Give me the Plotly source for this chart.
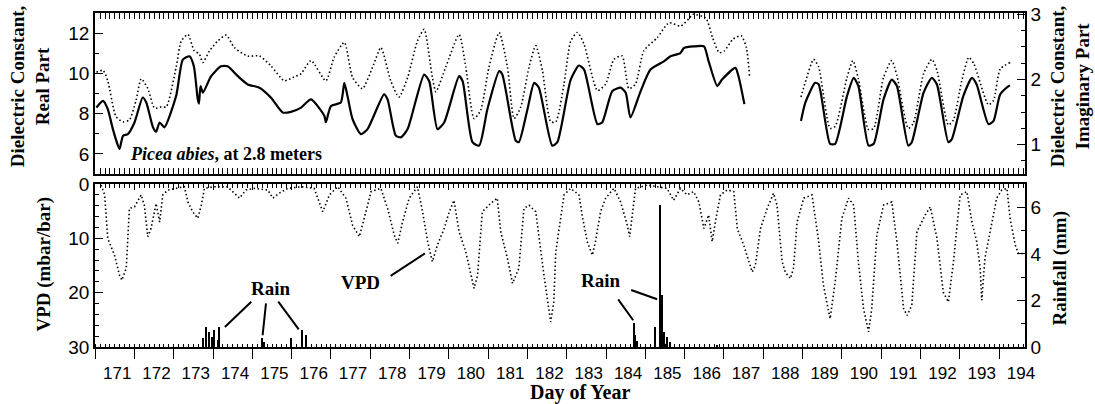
import plotly.graph_objects as go

# ---------------- data ----------------
# Top panel: dielectric constant, real part (solid, left axis)
re_day = [171.03, 171.20, 171.32, 171.45, 171.58, 171.62, 171.71, 171.83, 172.00, 172.21, 172.30, 172.47,
          172.55, 172.64, 172.76, 173.06, 173.23, 173.40, 173.51, 173.61, 173.64, 173.68, 173.74, 173.95,
          174.20, 174.37, 174.63, 174.88, 175.18, 175.47, 175.77, 175.98, 176.24, 176.49, 176.83, 176.87,
          177.00, 177.25, 177.34, 177.42, 177.55, 177.76, 177.93, 178.35, 178.44, 178.65, 178.78, 178.95,
          179.37, 179.50, 179.71, 179.88, 180.26, 180.35, 180.60, 180.77, 180.98, 181.28, 181.36, 181.70,
          181.78, 182.00, 182.17, 182.29, 182.63, 182.76, 183.10, 183.31, 183.44, 183.78, 183.90, 184.16,
          184.37, 184.50, 184.62, 184.88, 185.13, 185.47, 185.64, 185.89, 185.98, 186.23, 186.49, 186.61,
          186.83, 186.95, 187.29, 187.37, 187.52,
          None,
          188.96, 189.07, 189.32, 189.41, 189.70, 189.83, 190.13, 190.30, 190.42, 190.68, 190.81, 191.06,
          191.27, 191.40, 191.69, 191.78, 192.08, 192.29, 192.42, 192.71, 192.80, 193.09, 193.31, 193.43,
          193.73, 193.86, 194.03, 194.24, 194.28]
re_val = [8.30, 8.63, 8.22, 7.23, 6.41, 6.25, 6.90, 6.98, 7.56, 8.80, 8.55, 7.32,
          7.10, 7.56, 7.32, 8.88, 10.68, 10.85, 10.35, 8.71, 8.50, 9.37, 9.04, 9.86,
          10.35, 10.35, 9.86, 9.45, 9.29, 8.80, 8.06, 8.09, 8.30, 8.71, 7.89, 7.57,
          8.38, 8.55, 9.53, 8.87, 7.72, 6.98, 7.23, 8.96, 8.71, 6.90, 6.82, 7.23,
          9.94, 9.61, 7.23, 7.56, 9.86, 9.61, 6.58, 6.41, 8.22, 10.11, 9.94, 6.66,
          6.58, 8.22, 9.53, 9.29, 6.41, 6.58, 9.69, 10.39, 10.19, 7.48, 7.56, 9.12,
          9.29, 9.04, 7.81, 9.12, 10.19, 10.60, 10.85, 11.01, 11.26, 11.34, 11.34, 10.60,
          9.37, 9.69, 10.27, 9.86, 8.47,
          None,
          7.64, 8.55, 9.53, 9.45, 6.50, 6.50, 8.87, 9.78, 9.37, 6.41, 6.50, 8.71,
          9.69, 9.37, 6.41, 6.58, 9.04, 9.78, 9.45, 6.58, 6.74, 8.87, 9.78, 9.45,
          7.48, 7.64, 8.96, 9.37, 9.40]

# Top panel: dielectric constant, imaginary part (dotted, right axis)
im_day = [171.03, 171.20, 171.32, 171.53, 171.71, 171.87, 172.04, 172.17, 172.34, 172.51, 172.68, 172.81,
          173.06, 173.19, 173.36, 173.52, 173.65, 173.74, 173.91, 174.12, 174.33, 174.54, 174.88, 175.18,
          175.47, 175.81, 176.03, 176.24, 176.49, 176.87, 177.08, 177.34, 177.55, 177.80, 178.06, 178.27,
          178.52, 178.73, 178.95, 179.20, 179.37, 179.58, 179.67, 179.92, 180.26, 180.43, 180.64, 180.81,
          181.02, 181.28, 181.49, 181.66, 181.83, 182.04, 182.21, 182.38, 182.59, 182.72, 182.93, 183.10,
          183.27, 183.44, 183.78, 183.99, 184.20, 184.41, 184.58, 184.75, 184.96, 185.30, 185.60, 185.90,
          186.12, 186.20, 186.54, 186.71, 186.88, 187.01, 187.23, 187.44, 187.57, 187.65,
          None,
          188.96, 189.07, 189.28, 189.41, 189.70, 189.83, 190.13, 190.28, 190.42, 190.68, 190.81, 191.06,
          191.27, 191.40, 191.69, 191.82, 192.08, 192.29, 192.42, 192.71, 192.84, 193.05, 193.23, 193.36,
          193.73, 193.86, 194.03, 194.28]
im_val = [2.11, 2.14, 1.98, 1.43, 1.35, 1.38, 1.68, 2.01, 1.86, 1.56, 1.58, 1.58,
          2.19, 2.59, 2.69, 2.44, 2.39, 2.26, 2.44, 2.59, 2.68, 2.49, 2.36, 2.36,
          2.21, 1.98, 2.03, 2.09, 2.29, 1.98, 2.34, 2.57, 2.03, 1.86, 2.19, 2.49,
          1.98, 1.73, 2.03, 2.59, 2.77, 2.03, 1.81, 2.19, 2.69, 2.19, 1.40, 1.53,
          2.19, 2.72, 2.19, 1.40, 1.58, 2.19, 2.52, 2.14, 1.35, 1.35, 1.93, 2.59,
          2.72, 2.54, 1.83, 1.93, 2.31, 2.36, 1.86, 1.93, 2.44, 2.64, 2.87, 2.82,
          2.94, 3.00, 2.94, 2.64, 2.41, 2.44, 2.62, 2.67, 2.49, 2.06,
          None,
          1.73, 1.96, 2.31, 2.19, 1.25, 1.28, 2.03, 2.29, 2.01, 1.23, 1.25, 2.03,
          2.29, 2.06, 1.25, 1.33, 2.09, 2.31, 2.14, 1.30, 1.38, 1.98, 2.34, 2.24,
          1.61, 1.68, 2.16, 2.26]

# Bottom panel: vapour pressure deficit (dotted, left reversed axis)
vpd_day = [171.15, 171.24, 171.32, 171.49, 171.62, 171.68, 171.79, 171.87, 172.00, 172.17, 172.25, 172.34,
           172.42, 172.55, 172.64, 172.72, 172.85, 173.02, 173.27, 173.36, 173.48, 173.61, 173.70, 173.78,
           174.03, 174.37, 174.54, 174.67, 174.84, 175.05, 175.39, 175.52, 175.68, 175.90, 176.24, 176.57,
           176.79, 176.96, 177.17, 177.38, 177.55, 177.72, 177.89, 178.02, 178.27, 178.44, 178.61, 178.70,
           178.82, 178.99, 179.20, 179.33, 179.46, 179.58, 179.71, 179.88, 180.01, 180.13, 180.26, 180.43,
           180.64, 180.73, 180.85, 181.06, 181.23, 181.32, 181.49, 181.62, 181.78, 181.91, 182.04, 182.21,
           182.42, 182.59, 182.67, 182.72, 182.93, 183.10, 183.31, 183.39, 183.52, 183.65, 183.73, 183.86,
           183.99, 184.20, 184.37, 184.54, 184.60, 184.71, 184.75, 185.05, 185.55, 185.72, 185.89, 186.06,
           186.23, 186.36, 186.49, 186.61, 186.70, 186.78, 186.91, 187.08, 187.25, 187.34, 187.50, 187.72,
           187.80, 187.93, 188.10, 188.26, 188.35, 188.48, 188.56, 188.69, 188.77, 188.86, 189.03, 189.24,
           189.41, 189.53, 189.70, 189.83, 190.00, 190.17, 190.30, 190.42, 190.55, 190.68, 190.76, 190.89,
           191.06, 191.27, 191.40, 191.57, 191.66, 191.78, 191.91, 192.12, 192.25, 192.42, 192.58, 192.71,
           192.84, 193.01, 193.18, 193.31, 193.43, 193.52, 193.56, 193.64, 193.81, 193.94, 194.07, 194.20,
           194.28, 194.41, 194.49, 194.66]
vpd_val = [0.2, 2.0, 10.0, 13.1, 16.8, 17.7, 15.5, 4.5, 4.2, 2.0, 3.9, 9.7,
           8.2, 3.6, 7.0, 2.0, 1.1, 0.8, 0.5, 3.3, 5.1, 6.3, 3.9, 0.8,
           0.5, 0.5, 1.7, 2.6, 1.1, 0.8, 1.1, 2.6, 1.7, 0.8, 0.5, 0.8,
           5.1, 2.0, 0.5, 2.6, 7.6, 9.7, 5.1, 1.4, 0.8, 4.5, 9.4, 10.9,
           7.0, 2.6, 0.5, 5.1, 10.6, 14.3, 11.2, 8.2, 5.1, 3.0, 8.8, 12.5,
           19.2, 16.8, 5.1, 3.6, 2.6, 8.8, 13.7, 18.3, 15.5, 4.5, 3.9, 5.1,
           16.8, 25.4, 21.7, 12.5, 2.0, 0.8, 2.0, 5.7, 10.6, 13.1, 10.6, 5.1,
           2.6, 0.8, 3.3, 7.6, 9.7, 3.9, 0.8, 0.2, 0.8, 3.0, 0.8, 2.0,
           1.4, 3.3, 8.2, 5.7, 10.6, 7.0, 2.0, 1.1, 1.4, 8.2, 11.2, 16.2,
           14.9, 8.2, 4.5, 1.7, 3.9, 14.3, 16.2, 17.4, 15.5, 7.0, 2.6, 2.0,
           10.6, 18.6, 24.8, 18.0, 6.3, 2.6, 3.9, 14.3, 22.9, 27.2, 22.9, 9.4,
           3.9, 3.3, 10.6, 22.9, 24.2, 22.3, 8.8, 5.7, 4.2, 10.0, 19.9, 21.7,
           14.3, 2.0, 1.4, 7.0, 10.6, 15.5, 21.4, 13.7, 7.0, 2.6, 1.1, 0.8,
           6.3, 11.2, 12.8, 12.8]

# Bottom panel: rainfall (bars, right axis, mm)
rain_day = [173.74, 173.82, 173.91, 173.97, 174.03, 174.12, 174.16, 175.26, 175.30, 175.98, 176.28, 176.36,
            184.71, 184.75, 184.80, 185.26, 185.385, 185.43, 185.47, 185.56, 185.64, 186.83]
rain_mm = [0.37, 0.87, 0.66, 0.45, 0.74, 0.30, 0.87, 0.37, 0.20, 0.37, 0.73, 0.50,
           1.02, 0.50, 0.25, 0.87, 6.10, 2.24, 0.66, 0.45, 0.20, 0.10]

day_ticks = list(range(171, 195))
day_labels = [str(d) for d in day_ticks]

# ---------------- figure ----------------
BLACK = "#000000"
TICK_FONT = dict(family="Liberation Sans, Arial, sans-serif", size=19, color=BLACK)
XTICK_FONT = dict(family="Liberation Sans, Arial, sans-serif", size=17, color=BLACK)
SERIF = "Liberation Serif, Times New Roman, serif"
XR = [170.995, 194.66]

fig = go.Figure()
fig.add_trace(go.Scatter(x=re_day, y=re_val, mode="lines", xaxis="x", yaxis="y",
                         line=dict(color=BLACK, width=2.2, shape="spline", smoothing=0.6),
                         connectgaps=False, hoverinfo="skip"))
fig.add_trace(go.Scatter(x=im_day, y=im_val, mode="lines", xaxis="x", yaxis="y2",
                         line=dict(color=BLACK, width=1.6, dash="1.5px,2.5px", shape="spline", smoothing=0.6),
                         connectgaps=False, hoverinfo="skip"))
fig.add_trace(go.Bar(x=rain_day, y=rain_mm, xaxis="x2", yaxis="y4", width=0.04,
                     marker=dict(color=BLACK, line=dict(width=0)), hoverinfo="skip"))
fig.add_trace(go.Scatter(x=vpd_day, y=vpd_val, mode="lines", xaxis="x2", yaxis="y3",
                         line=dict(color=BLACK, width=1.6, dash="1.5px,2.5px"),
                         hoverinfo="skip"))
# empty trace to host the top-edge tick axis of the lower panel
fig.add_trace(go.Scatter(x=[], y=[], xaxis="x3", yaxis="y3", hoverinfo="skip"))

common_x = dict(range=XR, showline=True, linecolor=BLACK, linewidth=1.5, showgrid=False, zeroline=False,
                tickmode="array", tickvals=day_ticks, tickcolor=BLACK, tickwidth=1.2, automargin=False)
minor_x = dict(dtick=0.125, tick0=0, ticks="inside", ticklen=3.5, tickcolor=BLACK, tickwidth=1, showgrid=False)
common_y = dict(tickcolor=BLACK, tickwidth=1.2, showline=True, linecolor=BLACK, linewidth=1.5,
                showgrid=False, zeroline=False, tickfont=TICK_FONT, ticks="inside", ticklen=8,
                automargin=False)

fig.update_layout(
    width=1095, height=404,
    margin=dict(l=95, r=70, t=13, b=57, autoexpand=False),
    paper_bgcolor="white", plot_bgcolor="white",
    showlegend=False, bargap=0,
    xaxis=dict(**common_x, domain=[0, 1], anchor="y", ticks="inside", ticklen=6, mirror="allticks",
               showticklabels=False, minor=minor_x),
    yaxis=dict(**common_y, domain=[0.518, 1], anchor="x", range=[5, 13], dtick=2, tick0=0,
               minor=dict(dtick=1, tick0=0, ticks="inside", ticklen=4, tickcolor=BLACK, showgrid=False)),
    yaxis2=dict(**common_y, overlaying="y", side="right", anchor="x", range=[0.55, 3.02], dtick=1, tick0=0,
                minor=dict(dtick=0.25, tick0=0, ticks="inside", ticklen=4, tickcolor=BLACK, showgrid=False)),
    xaxis2=dict(**common_x, domain=[0, 1], anchor="y3", ticks="outside", ticklen=10,
                ticktext=day_labels, ticklabelshift=22, tickfont=XTICK_FONT, mirror=True, minor=minor_x),
    xaxis3=dict(range=XR, overlaying="x2", anchor="y3", side="top", tickmode="array", tickvals=day_ticks,
                ticks="inside", ticklen=6, tickcolor=BLACK, tickwidth=1.2, showticklabels=False,
                showline=False, showgrid=False, zeroline=False, automargin=False, minor=minor_x),
    yaxis3=dict(**common_y, domain=[0, 0.488], anchor="x2", range=[30, 0], dtick=10, tick0=0,
                minor=dict(dtick=2, tick0=0, ticks="inside", ticklen=4, tickcolor=BLACK, showgrid=False)),
    yaxis4=dict(**common_y, overlaying="y3", side="right", anchor="x2", range=[0, 7], dtick=2, tick0=0,
                minor=dict(dtick=1, tick0=0, ticks="inside", ticklen=4, tickcolor=BLACK, showgrid=False)),
)

title_font = dict(family=SERIF, size=19, color=BLACK)
ann = []
# axis titles
ann.append(dict(text="<b>Dielectric Constant,<br>Real Part</b>", xref="paper", yref="paper", x=0, y=0.781,
                xshift=-65, textangle=-90, showarrow=False, font=title_font, xanchor="center", yanchor="middle"))
ann.append(dict(text="<b>Dielectric Constant,<br>Imaginary Part</b>", xref="paper", yref="paper", x=1, y=0.781,
                xshift=45, textangle=-90, showarrow=False, font=title_font, xanchor="center", yanchor="middle"))
ann.append(dict(text="<b>VPD (mbar/bar)</b>", xref="paper", yref="paper", x=0, y=0.247, xshift=-51,
                textangle=-90, showarrow=False, font=title_font, xanchor="center", yanchor="middle"))
ann.append(dict(text="<b>Rainfall (mm)</b>", xref="paper", yref="paper", x=1, y=0.235, xshift=35,
                textangle=-90, showarrow=False, font=title_font, xanchor="center", yanchor="middle"))
ann.append(dict(text="<b>Day of Year</b>", xref="paper", yref="paper", x=0.5215, y=-0.1377,
                showarrow=False, font=dict(family=SERIF, size=20, color=BLACK), xanchor="center", yanchor="middle"))
# in-plot labels
ann.append(dict(text="<b><i>Picea abies</i>, at 2.8 meters</b>", xref="x", yref="y", x=171.84, y=6.0,
                showarrow=False, font=dict(family=SERIF, size=18, color=BLACK), xanchor="left", yanchor="middle"))
lab_font = dict(family=SERIF, size=19, color=BLACK)
ann.append(dict(text="<b>Rain</b>", xref="x2", yref="y3", x=175.47, y=19.2, showarrow=False, font=lab_font))
ann.append(dict(text="<b>VPD</b>", xref="x2", yref="y3", x=177.76, y=18.07, showarrow=False, font=lab_font))
ann.append(dict(text="<b>Rain</b>", xref="x2", yref="y3", x=183.86, y=17.7, showarrow=False, font=lab_font))
# leader lines (start -> end) in data coordinates
leaders = [((175.01, 21.39), (174.30, 26.31)),
           ((175.35, 21.70), (175.26, 27.84)),
           ((175.63, 21.39), (176.18, 26.74)),
           ((178.48, 17.09), (179.39, 12.78)),
           ((184.28, 20.97), (184.69, 25.08)),
           ((184.60, 19.42), (185.30, 21.21))]
for (sx, sy), (ex, ey) in leaders:
    ann.append(dict(text="", xref="x2", yref="y3", axref="x2", ayref="y3", x=ex, y=ey, ax=sx, ay=sy,
                    showarrow=True, arrowhead=0, arrowwidth=2, arrowcolor=BLACK, standoff=0, startstandoff=0))
fig.update_layout(annotations=ann)

fig.write_html("out.html", config={"displayModeBar": False},
               post_script="document.body.style.margin='0px';")
